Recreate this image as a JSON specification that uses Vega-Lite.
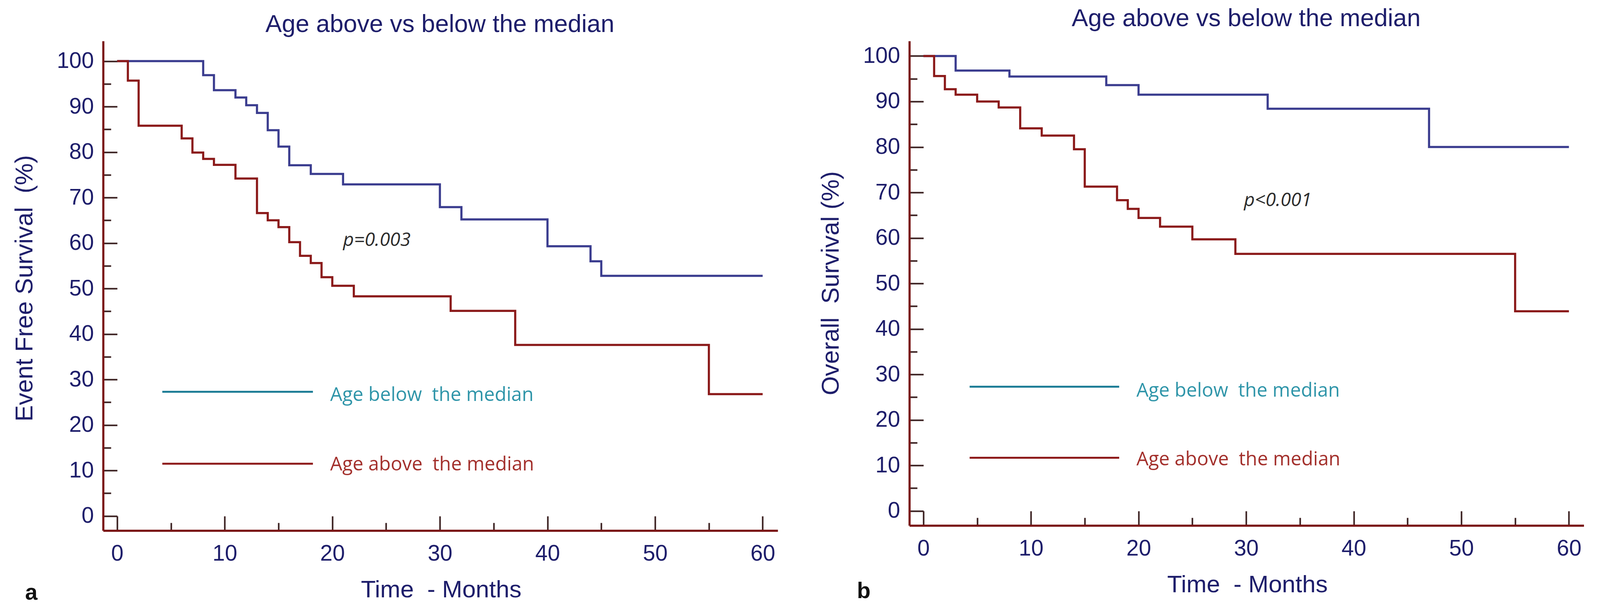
{
  "$schema": "https://vega.github.io/schema/vega-lite/v6.json",
  "padding": {"left": 32, "top": 16, "right": 0, "bottom": 0},
  "spacing": 105,
  "config": {"view": {"stroke": null}, "background": "white"},
  "datasets": {
    "efs_below": [
      {"month": 0, "survival": 100}, {"month": 8, "survival": 96.9}, {"month": 9, "survival": 93.6},
      {"month": 11, "survival": 92.0}, {"month": 12, "survival": 90.3}, {"month": 13, "survival": 88.6},
      {"month": 14, "survival": 84.8}, {"month": 15, "survival": 81.2}, {"month": 16, "survival": 77.1},
      {"month": 18, "survival": 75.2}, {"month": 21, "survival": 72.9}, {"month": 30, "survival": 67.9},
      {"month": 32, "survival": 65.2}, {"month": 40, "survival": 59.3}, {"month": 44, "survival": 56.0},
      {"month": 45, "survival": 52.8}, {"month": 60, "survival": 52.8}
    ],
    "efs_above": [
      {"month": 0, "survival": 100}, {"month": 1, "survival": 95.7}, {"month": 2, "survival": 85.8},
      {"month": 6, "survival": 83.0}, {"month": 7, "survival": 79.9}, {"month": 8, "survival": 78.5},
      {"month": 9, "survival": 77.2}, {"month": 11, "survival": 74.2}, {"month": 13, "survival": 66.6},
      {"month": 14, "survival": 65.0}, {"month": 15, "survival": 63.5}, {"month": 16, "survival": 60.2},
      {"month": 17, "survival": 57.2}, {"month": 18, "survival": 55.6}, {"month": 19, "survival": 52.5},
      {"month": 20, "survival": 50.6}, {"month": 22, "survival": 48.3}, {"month": 31, "survival": 45.1},
      {"month": 37, "survival": 37.6}, {"month": 55, "survival": 26.8}, {"month": 60, "survival": 26.8}
    ],
    "os_below": [
      {"month": 0, "survival": 100}, {"month": 3, "survival": 96.8}, {"month": 8, "survival": 95.5},
      {"month": 17, "survival": 93.6}, {"month": 20, "survival": 91.5}, {"month": 32, "survival": 88.4},
      {"month": 47, "survival": 80.0}, {"month": 60, "survival": 80.0}
    ],
    "os_above": [
      {"month": 0, "survival": 100}, {"month": 1, "survival": 95.6}, {"month": 2, "survival": 92.7},
      {"month": 3, "survival": 91.5}, {"month": 5, "survival": 90.0}, {"month": 7, "survival": 88.7},
      {"month": 9, "survival": 84.1}, {"month": 11, "survival": 82.5}, {"month": 14, "survival": 79.5},
      {"month": 15, "survival": 71.3}, {"month": 18, "survival": 68.3}, {"month": 19, "survival": 66.4},
      {"month": 20, "survival": 64.4}, {"month": 22, "survival": 62.5}, {"month": 25, "survival": 59.7},
      {"month": 29, "survival": 56.5}, {"month": 55, "survival": 43.9}, {"month": 60, "survival": 43.9}
    ],
    "one": [{"n": 1}]
  },
  "hconcat": [
    {
      "width": 1727,
      "height": 1254,
      "layer": [
        {"data": {"name": "efs_below"}, "mark": {"type": "line", "interpolate": "step-after", "color": "#3b3d8f", "strokeWidth": 5.5},
         "encoding": {
          "x": {
            "field": "month", "type": "quantitative",
            "scale": {"domain": [-1.3, 61.4], "nice": false, "zero": false},
            "axis": {
              "values": [0, 5, 10, 15, 20, 25, 30, 35, 40, 45, 50, 55, 60],
              "labelExpr": "datum.value % 10 === 0 ? datum.label : ''",
              "tickSize": {"condition": {"test": "datum.value % 10 === 0", "value": -37}, "value": -20},
              "tickWidth": 4, "tickColor": "#3a2020", "domainColor": "#7a1515", "domainWidth": 5.5,
              "labelPadding": 68, "labelFontSize": 57, "labelFont": "Liberation Sans", "labelColor": "#1e1e6b",
              "labelFlush": false, "labelOverlap": false, "grid": false,
              "title": "Time\u00a0 - Months", "titleFontSize": 62, "titleFont": "Liberation Sans", "titleFontWeight": "normal",
              "titleColor": "#1e1e6b", "titleX": 865, "titleY": 170, "titleAlign": "center", "titleBaseline": "alphabetic"
            }
          },
          "y": {
            "field": "survival", "type": "quantitative",
            "scale": {"domain": [-3.2, 104.42], "nice": false, "zero": false},
            "axis": {
              "values": [0, 5, 10, 15, 20, 25, 30, 35, 40, 45, 50, 55, 60, 65, 70, 75, 80, 85, 90, 95, 100],
              "labelExpr": "datum.value % 10 === 0 ? datum.label : ''",
              "tickSize": {"condition": {"test": "datum.value % 10 === 0", "value": -36}, "value": -20},
              "tickWidth": 4, "tickColor": "#3a2020", "domainColor": "#7a1515", "domainWidth": 5.5,
              "labelPadding": 60, "labelFontSize": 57, "labelFont": "Liberation Sans", "labelColor": "#1e1e6b",
              "labelFlush": false, "labelOverlap": false, "grid": false,
              "title": "Event Free Survival\u00a0 (%)", "titleFontSize": 63, "titleFont": "Liberation Sans", "titleFontWeight": "normal",
              "titleColor": "#1e1e6b", "titleX": -182, "titleY": 633, "titleAngle": -90, "titleAlign": "center", "titleBaseline": "alphabetic"
            }
          }
         }},
        {"data": {"name": "efs_above"}, "mark": {"type": "line", "interpolate": "step-after", "color": "#8b1a1a", "strokeWidth": 5.5},
         "encoding": {"x": {"field": "month", "type": "quantitative"}, "y": {"field": "survival", "type": "quantitative"}}},
        {"data": {"name": "one"}, "mark": {"type": "text", "text": "Age above vs below the median", "font": "Liberation Sans", "fontSize": 63, "color": "#1e1e6b", "align": "center", "baseline": "alphabetic"},
         "encoding": {"x": {"datum": 30.0, "type": "quantitative"}, "y": {"datum": 106.4, "type": "quantitative"}}},
        {"data": {"name": "one"}, "mark": {"type": "rule", "color": "#1f7e97", "strokeWidth": 5},
         "encoding": {"x": {"datum": 4.2, "type": "quantitative"}, "x2": {"datum": 18.2}, "y": {"datum": 27.3, "type": "quantitative"}}},
        {"data": {"name": "one"}, "mark": {"type": "rule", "color": "#8e1b1b", "strokeWidth": 5},
         "encoding": {"x": {"datum": 4.2, "type": "quantitative"}, "x2": {"datum": 18.2}, "y": {"datum": 11.5, "type": "quantitative"}}},
        {"data": {"name": "one"}, "mark": {"type": "text", "text": "Age below\u00a0 the median", "font": "Open Sans", "fontSize": 49, "color": "#2f95a9", "align": "left", "baseline": "middle"},
         "encoding": {"x": {"datum": 19.8, "type": "quantitative"}, "y": {"datum": 26.6, "type": "quantitative"}}},
        {"data": {"name": "one"}, "mark": {"type": "text", "text": "Age above\u00a0 the median", "font": "Open Sans", "fontSize": 49, "color": "#a3302c", "align": "left", "baseline": "middle"},
         "encoding": {"x": {"datum": 19.8, "type": "quantitative"}, "y": {"datum": 11.3, "type": "quantitative"}}},
        {"data": {"name": "one"}, "mark": {"type": "text", "text": "p=0.003", "font": "Open Sans", "fontStyle": "italic", "fontSize": 48, "color": "#2b2b2b", "align": "left", "baseline": "alphabetic"},
         "encoding": {"x": {"datum": 21.0, "type": "quantitative"}, "y": {"datum": 59.4, "type": "quantitative"}}},
        {"data": {"name": "one"}, "mark": {"type": "text", "text": "a", "font": "Liberation Sans", "fontWeight": "bold", "fontSize": 57, "color": "#111111", "align": "left", "baseline": "alphabetic"},
         "encoding": {"x": {"datum": -8.55, "type": "quantitative"}, "y": {"datum": -18.4, "type": "quantitative"}}}
      ]
    },
    {
      "width": 1727,
      "height": 1241,
      "layer": [
        {"data": {"name": "os_below"}, "mark": {"type": "line", "interpolate": "step-after", "color": "#3b3d8f", "strokeWidth": 5.5},
         "encoding": {
          "x": {
            "field": "month", "type": "quantitative",
            "scale": {"domain": [-1.3, 61.4], "nice": false, "zero": false},
            "axis": {
              "values": [0, 5, 10, 15, 20, 25, 30, 35, 40, 45, 50, 55, 60],
              "labelExpr": "datum.value % 10 === 0 ? datum.label : ''",
              "tickSize": {"condition": {"test": "datum.value % 10 === 0", "value": -37}, "value": -20},
              "tickWidth": 4, "tickColor": "#3a2020", "domainColor": "#7a1515", "domainWidth": 5.5,
              "labelPadding": 68, "labelFontSize": 57, "labelFont": "Liberation Sans", "labelColor": "#1e1e6b",
              "labelFlush": false, "labelOverlap": false, "grid": false,
              "title": "Time\u00a0 - Months", "titleFontSize": 62, "titleFont": "Liberation Sans", "titleFontWeight": "normal",
              "titleColor": "#1e1e6b", "titleX": 865, "titleY": 170, "titleAlign": "center", "titleBaseline": "alphabetic"
            }
          },
          "y": {
            "field": "survival", "type": "quantitative",
            "scale": {"domain": [-3.2, 103.3], "nice": false, "zero": false},
            "axis": {
              "values": [0, 5, 10, 15, 20, 25, 30, 35, 40, 45, 50, 55, 60, 65, 70, 75, 80, 85, 90, 95, 100],
              "labelExpr": "datum.value % 10 === 0 ? datum.label : ''",
              "tickSize": {"condition": {"test": "datum.value % 10 === 0", "value": -36}, "value": -20},
              "tickWidth": 4, "tickColor": "#3a2020", "domainColor": "#7a1515", "domainWidth": 5.5,
              "labelPadding": 60, "labelFontSize": 57, "labelFont": "Liberation Sans", "labelColor": "#1e1e6b",
              "labelFlush": false, "labelOverlap": false, "grid": false,
              "title": "Overall\u00a0 Survival (%)", "titleFontSize": 63, "titleFont": "Liberation Sans", "titleFontWeight": "normal",
              "titleColor": "#1e1e6b", "titleX": -182, "titleY": 620, "titleAngle": -90, "titleAlign": "center", "titleBaseline": "alphabetic"
            }
          }
         }},
        {"data": {"name": "os_above"}, "mark": {"type": "line", "interpolate": "step-after", "color": "#8b1a1a", "strokeWidth": 5.5},
         "encoding": {"x": {"field": "month", "type": "quantitative"}, "y": {"field": "survival", "type": "quantitative"}}},
        {"data": {"name": "one"}, "mark": {"type": "text", "text": "Age above vs below the median", "font": "Liberation Sans", "fontSize": 63, "color": "#1e1e6b", "align": "center", "baseline": "alphabetic"},
         "encoding": {"x": {"datum": 30.0, "type": "quantitative"}, "y": {"datum": 106.6, "type": "quantitative"}}},
        {"data": {"name": "one"}, "mark": {"type": "rule", "color": "#1f7e97", "strokeWidth": 5},
         "encoding": {"x": {"datum": 4.3, "type": "quantitative"}, "x2": {"datum": 18.2}, "y": {"datum": 27.3, "type": "quantitative"}}},
        {"data": {"name": "one"}, "mark": {"type": "rule", "color": "#8e1b1b", "strokeWidth": 5},
         "encoding": {"x": {"datum": 4.3, "type": "quantitative"}, "x2": {"datum": 18.2}, "y": {"datum": 11.7, "type": "quantitative"}}},
        {"data": {"name": "one"}, "mark": {"type": "text", "text": "Age below\u00a0 the median", "font": "Open Sans", "fontSize": 49, "color": "#2f95a9", "align": "left", "baseline": "middle"},
         "encoding": {"x": {"datum": 19.8, "type": "quantitative"}, "y": {"datum": 26.4, "type": "quantitative"}}},
        {"data": {"name": "one"}, "mark": {"type": "text", "text": "Age above\u00a0 the median", "font": "Open Sans", "fontSize": 49, "color": "#a3302c", "align": "left", "baseline": "middle"},
         "encoding": {"x": {"datum": 19.8, "type": "quantitative"}, "y": {"datum": 11.3, "type": "quantitative"}}},
        {"data": {"name": "one"}, "mark": {"type": "text", "text": "p<0.001", "font": "Open Sans", "fontStyle": "italic", "fontSize": 48, "color": "#2b2b2b", "align": "left", "baseline": "alphabetic"},
         "encoding": {"x": {"datum": 29.8, "type": "quantitative"}, "y": {"datum": 67.0, "type": "quantitative"}}},
        {"data": {"name": "one"}, "mark": {"type": "text", "text": "b", "font": "Liberation Sans", "fontWeight": "bold", "fontSize": 57, "color": "#111111", "align": "left", "baseline": "alphabetic"},
         "encoding": {"x": {"datum": -6.17, "type": "quantitative"}, "y": {"datum": -19.2, "type": "quantitative"}}}
      ]
    }
  ]
}
